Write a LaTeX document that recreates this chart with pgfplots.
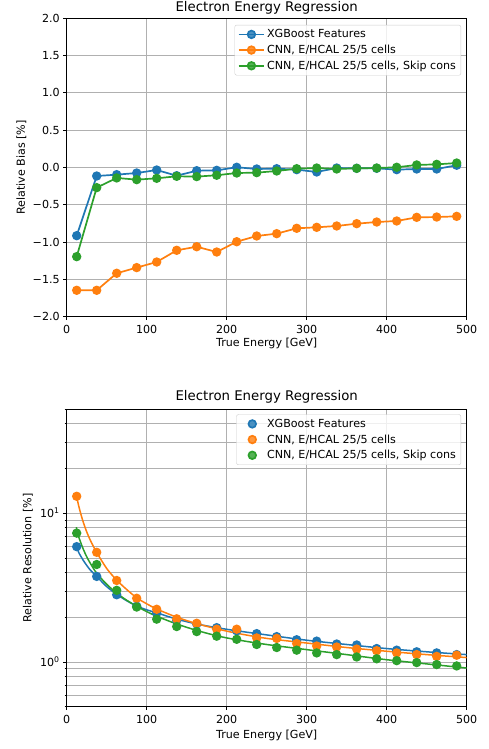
\documentclass[border=0pt]{standalone}
\usepackage{fontspec}
\setmainfont{DejaVu Sans}
\usepackage{pgfplots}
\pgfplotsset{compat=1.18}
\definecolor{mblue}{HTML}{1F77B4}
\definecolor{morange}{HTML}{FF7F0E}
\definecolor{mgreen}{HTML}{2CA02C}
\definecolor{mgrid}{HTML}{B0B0B0}
\newcommand{\fs}{\fontsize{11.1}{13}\selectfont}
\pgfplotsset{
  mpl/.style={
    scale only axis, width=400pt,
    xmin=0, xmax=500,
    xtick={0,100,200,300,400,500}, xticklabels={0,100,200,300,400,500},
    tick align=outside, xtick pos=bottom, ytick pos=left,
    major tick length=3.5pt, minor tick length=2pt,
    major tick style={line width=0.8pt, black},
    minor tick style={line width=0.6pt, black},
    axis line style={line width=0.8pt},
    grid style={mgrid, line width=0.8pt},
    xmajorgrids, ymajorgrids,
    tick label style={font=\fs},
    xticklabel style={yshift=-2pt},
    label style={font=\fs},
    title style={font=\fontsize{13.3}{15}\selectfont, at={(axis description cs:0.5,1)}, anchor=center},
    legend style={draw=black!20, rounded corners=2pt, fill=white, fill opacity=0.8, text opacity=1,
      font=\fs, row sep=1.8pt, inner xsep=3pt, inner ysep=2.5pt},
    legend cell align=left,
    legend image code/.code={\draw[mark repeat=2,mark phase=2] plot coordinates {(0cm,0cm) (0.45cm,0cm) (0.9cm,0cm)};},
    every axis plot/.append style={line width=1.7pt, mark size=3.8pt},
  },
  scatleg/.style={legend image code/.code={\draw[draw=none] (0cm,0cm) -- (0.9cm,0cm); \draw plot[only marks] coordinates {(0.45cm,0cm)};}},
}
\begin{document}
\begin{tikzpicture}
\useasboundingbox (0,0) rectangle (489pt,749pt);
% ---------------- top: relative bias
\begin{axis}[mpl,
  at={(66.7pt,432.3pt)}, anchor=south west, height=298.4pt,
  ymin=-2, ymax=2,
  ytick={-2,-1.5,-1,-0.5,0,0.5,1,1.5,2},
  yticklabels={−2.0,−1.5,−1.0,−0.5,0.0,0.5,1.0,1.5,2.0},
  title={Electron Energy Regression}, title style={yshift=4pt},
  xlabel={True Energy [GeV]}, xlabel style={at={(axis description cs:0.5,0)}, anchor=center, yshift=-26.6pt},
  ylabel={Relative Bias [\%]}, ylabel style={at={(axis description cs:-0.113,0.5)}, anchor=center},
  legend style={at={(0.986,0.978)}, anchor=north east},
]
\addplot[mblue, mark=*] coordinates {
(12.5,-0.914) (37.5,-0.114) (62.5,-0.096) (87.5,-0.074) (112.5,-0.034)
(137.5,-0.110) (162.5,-0.043) (187.5,-0.038) (212.5,0.003) (237.5,-0.020)
(262.5,-0.016) (287.5,-0.029) (312.5,-0.060) (337.5,-0.007) (362.5,-0.011)
(387.5,-0.011) (412.5,-0.029) (437.5,-0.020) (462.5,-0.020) (487.5,0.030)};
\addlegendentry{XGBoost Features}
\addplot[morange, mark=*] coordinates {
(12.5,-1.646) (37.5,-1.646) (62.5,-1.418) (87.5,-1.342) (112.5,-1.267)
(137.5,-1.110) (162.5,-1.062) (187.5,-1.133) (212.5,-0.995) (237.5,-0.918)
(262.5,-0.887) (287.5,-0.815) (312.5,-0.802) (337.5,-0.784) (362.5,-0.753)
(387.5,-0.731) (412.5,-0.717) (437.5,-0.668) (462.5,-0.664) (487.5,-0.655)};
\addlegendentry{CNN, E/HCAL 25/5 cells}
\addplot[mgreen, mark=*] coordinates {
(12.5,-1.195) (37.5,-0.270) (62.5,-0.140) (87.5,-0.163) (112.5,-0.145)
(137.5,-0.118) (162.5,-0.122) (187.5,-0.104) (212.5,-0.074) (237.5,-0.069)
(262.5,-0.047) (287.5,-0.016) (312.5,-0.007) (337.5,-0.020) (362.5,-0.011)
(387.5,-0.007) (412.5,0.003) (437.5,0.034) (462.5,0.042) (487.5,0.060)};
\addlegendentry{CNN, E/HCAL 25/5 cells, Skip cons}
\end{axis}
% ---------------- bottom: relative resolution
\begin{axis}[mpl,
  at={(66.7pt,42.3pt)}, anchor=south west, height=297.4pt,
  ymode=log, ymin=0.5, ymax=50,
  ytick={1,10}, yticklabels={10\textsuperscript{0},10\textsuperscript{1}},
  minor ytick={0.5,0.6,0.7,0.8,0.9,2,3,4,5,6,7,8,9,20,30,40,50},
  yminorgrids,
  minor grid style={mgrid, line width=0.8pt},
  title={Electron Energy Regression}, title style={yshift=6pt},
  xlabel={True Energy [GeV]}, xlabel style={at={(axis description cs:0.5,0)}, anchor=center, yshift=-28.3pt},
  ylabel={Relative Resolution [\%]}, ylabel style={at={(axis description cs:-0.0968,0.5)}, anchor=center},
  legend style={at={(0.986,0.983)}, anchor=north east},
]
\addplot[mblue, mark=*, only marks, scatleg] coordinates {
(12.5,5.96) (37.5,3.76) (62.5,2.83) (87.5,2.37) (112.5,2.13)
(137.5,1.90) (162.5,1.80) (187.5,1.70) (212.5,1.62) (237.5,1.55)
(262.5,1.48) (287.5,1.41) (312.5,1.38) (337.5,1.32) (362.5,1.30)
(387.5,1.23) (412.5,1.20) (437.5,1.17) (462.5,1.15) (487.5,1.12)};
\addlegendentry{XGBoost Features}
\addplot[morange, mark=*, only marks, scatleg] coordinates {
(12.5,13.0) (37.5,5.46) (62.5,3.53) (87.5,2.68) (112.5,2.26)
(137.5,1.95) (162.5,1.82) (187.5,1.66) (212.5,1.66) (237.5,1.45)
(262.5,1.44) (287.5,1.33) (312.5,1.28) (337.5,1.26) (362.5,1.22)
(387.5,1.19) (412.5,1.15) (437.5,1.12) (462.5,1.09) (487.5,1.11)};
\addlegendentry{CNN, E/HCAL 25/5 cells}
\addplot[mgreen, mark=*, only marks, scatleg] coordinates {
(12.5,7.35) (37.5,4.52) (62.5,3.03) (87.5,2.34) (112.5,1.94)
(137.5,1.73) (162.5,1.60) (187.5,1.49) (212.5,1.42) (237.5,1.31)
(262.5,1.25) (287.5,1.20) (312.5,1.15) (337.5,1.12) (362.5,1.08)
(387.5,1.05) (412.5,1.02) (437.5,0.99) (462.5,0.96) (487.5,0.94)};
\addlegendentry{CNN, E/HCAL 25/5 cells, Skip cons}
\addplot[mblue, no marks, smooth, forget plot, line width=1.5pt] coordinates {
(12.5,5.93) (15,5.45) (20,4.89) (25,4.46) (30,4.12) (37.5,3.76) (50,3.21)
(62.5,2.85) (75,2.58) (87.5,2.38) (100,2.24) (112.5,2.14) (137.5,1.94)
(162.5,1.80) (187.5,1.70) (212.5,1.62) (250,1.52) (300,1.40) (350,1.31)
(400,1.23) (450,1.17) (500,1.12)};
\addplot[morange, no marks, smooth, forget plot, line width=1.5pt] coordinates {
(12.5,13.0) (15,11.2) (20,8.95) (25,7.5) (30,6.5) (37.5,5.45) (50,4.25)
(62.5,3.55) (75,3.07) (87.5,2.70) (100,2.46) (112.5,2.27) (137.5,2.00)
(162.5,1.81) (187.5,1.67) (212.5,1.56) (250,1.44) (300,1.34) (350,1.25)
(400,1.18) (450,1.12) (500,1.07)};
\addplot[mgreen, no marks, smooth, forget plot, line width=1.5pt] coordinates {
(12,8.06) (15,6.95) (20,5.86) (25,5.1) (30,4.56) (37.5,3.95) (50,3.33)
(62.5,2.90) (75,2.60) (87.5,2.37) (100,2.18) (112.5,2.03) (137.5,1.80)
(162.5,1.63) (187.5,1.50) (212.5,1.41) (250,1.31) (300,1.21) (350,1.12)
(400,1.035) (450,0.97) (500,0.91)};
\end{axis}
\end{tikzpicture}
\end{document}
